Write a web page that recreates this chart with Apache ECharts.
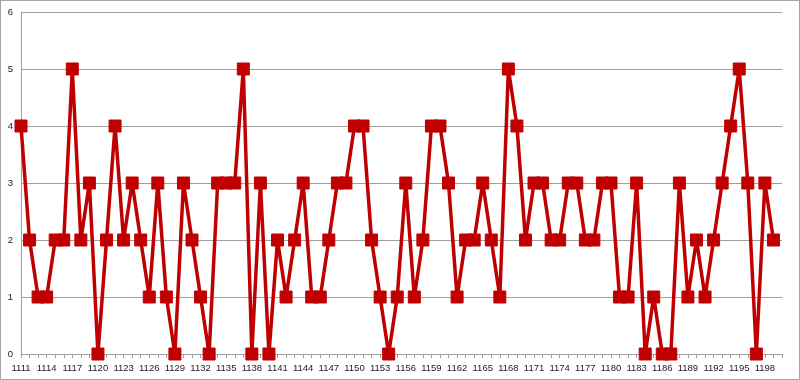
<!DOCTYPE html>
<html>
<head>
<meta charset="utf-8">
<script src="https://cdn.jsdelivr.net/npm/echarts@6/dist/echarts.min.js"></script>
<style>
html,body{margin:0;padding:0;background:#fff;}
#wrap{width:800px;height:380px;box-sizing:border-box;border:1px solid #a6a6a6;position:relative;}
#chart{position:absolute;left:-1px;top:-1px;width:800px;height:380px;}
</style>
</head>
<body>
<div id="wrap"><div id="chart"></div></div>
<script>
const years = [
  '1111','1112','1113','1114','1115','1116','1117','1118','1119','1120',
  '1121','1122','1123','1124','1125','1126','1127','1128','1129','1130',
  '1131','1132','1133','1134','1135','1136','1137','1138','1139','1140',
  '1141','1142','1143','1144','1145','1146','1147','1148','1149','1150',
  '1151','1152','1153','1154','1155','1156','1157','1158','1159','1160',
  '1161','1162','1163','1164','1165','1166','1167','1168','1169','1170',
  '1171','1172','1173','1174','1175','1176','1177','1178','1179','1180',
  '1181','1182','1183','1184','1185','1186','1187','1188','1189','1190',
  '1191','1192','1193','1194','1195','1196','1197','1198','1199','1200'
];
const counts = [
  4,2,1,1,2,2,5,2,3,0,
  2,4,2,3,2,1,3,1,0,3,
  2,1,0,3,3,3,5,0,3,0,
  2,1,2,3,1,1,2,3,3,4,
  4,2,1,0,1,3,1,2,4,4,
  3,1,2,2,3,2,1,5,4,2,
  3,3,2,2,3,3,2,2,3,3,
  1,1,3,0,1,0,0,3,1,2,
  1,2,3,4,5,3,0,3,2
];
const yTicks = { min: 0, max: 6, step: 1 };

const chart = echarts.init(document.getElementById('chart'), null, { renderer: 'canvas' });
chart.setOption({
  animation: false,
  backgroundColor: 'transparent',
  grid: { left: 21, right: 18, top: 12, bottom: 26, containLabel: false },
  xAxis: {
    type: 'category',
    data: years,
    boundaryGap: false,
    axisLine: { show: true, lineStyle: { color: '#a0a0a0', width: 1 } },
    axisTick: { show: true, interval: 0, length: 4, lineStyle: { color: '#a0a0a0' } },
    axisLabel: { interval: 2, color: '#222', fontFamily: 'Liberation Sans', fontSize: 9.5, margin: 9 },
    splitLine: { show: false }
  },
  yAxis: {
    type: 'value',
    min: yTicks.min, max: yTicks.max, interval: yTicks.step,
    axisLine: { show: true, lineStyle: { color: '#a0a0a0', width: 1 } },
    axisTick: { show: false },
    axisLabel: { color: '#222', fontFamily: 'Liberation Sans', fontSize: 9.5, margin: 8 },
    splitLine: { show: true, lineStyle: { color: '#a0a0a0', width: 1 } }
  },
  series: [{
    type: 'line',
    data: counts,
    symbol: 'rect',
    symbolSize: 12,
    showAllSymbol: true,
    lineStyle: { color: '#c00000', width: 3.5, join: 'round' },
    itemStyle: { color: '#c00000', borderColor: '#c00000', borderWidth: 1, borderJoin: 'round' },
    emphasis: { disabled: true }
  }]
});
</script>
</body>
</html>
